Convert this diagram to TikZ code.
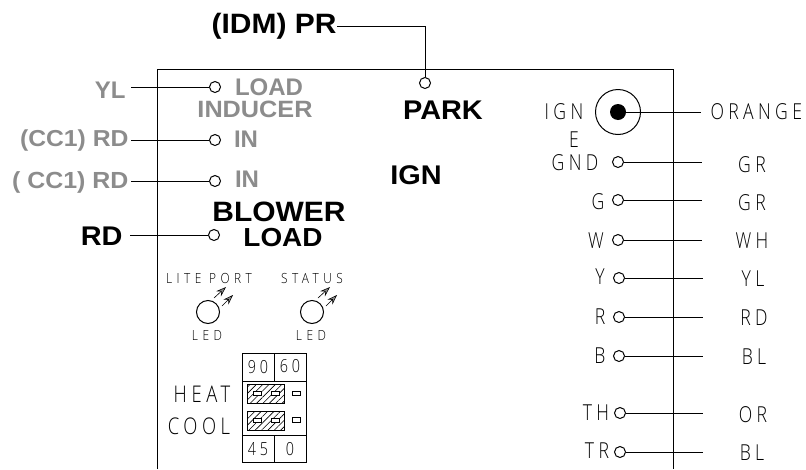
\documentclass[tikz,border=0pt]{standalone}
\usepackage{fontspec}
\setmainfont{Liberation Sans}
\newfontfamily\lblwide[FakeStretch=1.07]{Liberation Sans}
\newfontfamily\cadfont[LetterSpace=20,FakeStretch=0.8,UprightFont={* Light}]{Open Sans}
\newfontfamily\cadwide[LetterSpace=32,FakeStretch=0.85,UprightFont={* Light}]{Open Sans}
\usepackage{tikz}
\usetikzlibrary{arrows.meta,patterns.meta}
\definecolor{wiregray}{HTML}{8C8C8C}

\begin{document}
\begin{tikzpicture}[x=1pt,y=-1pt,line width=1pt,
    pin/.style={circle, draw, inner sep=0pt, minimum size=11pt},
    blk/.style={font=\bfseries\fontsize{24}{24}\selectfont, inner sep=0pt},
    gry/.style={blk, text=wiregray},
    cad/.style={font=\cadfont\fontsize{22}{22}\selectfont, inner sep=0pt},
    cadsm/.style={font=\cadwide\fontsize{14}{14}\selectfont, inner sep=0pt},
    cadmd/.style={font=\cadfont\fontsize{18}{18}\selectfont, inner sep=0pt},
    jump/.style={draw, pattern={Lines[angle=45,distance=4.5pt,line width=0.6pt]}},
    tab/.style={draw, fill=white, inner sep=0pt, minimum width=8pt, minimum height=4.5pt, line width=0.7pt},
    led/.style={-{Stealth[length=10pt,width=7pt,fill=wiregray]}, line width=0.6pt}]
            \useasboundingbox (0,0) rectangle (806,469);
            \draw (157,469) -- (157,69) -- (673,69) -- (673,469);
            \node[blk, anchor=east, font=\lblwide\bfseries\fontsize{28}{28}\selectfont] (PRlbl) at (337,26) {(IDM) PR};
            \node[pin] (PRpin) at (425,83) {};
            \node[blk, font=\lblwide\bfseries\fontsize{27}{27}\selectfont] (PARK) at (443,110) {PARK};
            \node[blk, font=\lblwide\bfseries\fontsize{27}{27}\selectfont] (IGNlbl) at (416,175) {IGN};
            \draw (PRlbl.east) -| (PRpin.north);
            \node[gry, anchor=east] (YLlbl) at (126,90) {YL};
            \node[gry, anchor=east, font=\lblwide\bfseries\fontsize{23.1}{24}\selectfont] (CC1lbl) at (129,141) {(CC1) RD};
            \node[gry, anchor=east, font=\lblwide\bfseries\fontsize{23.3}{24}\selectfont] (CC2lbl) at (129,182) {( CC1) RD};
            \node[blk, anchor=east, font=\lblwide\bfseries\fontsize{27}{27}\selectfont] (RDlbl) at (123,236) {RD};
            \node[pin] (YLpin) at (215,87) {};
            \node[pin] (CC1pin) at (215,140) {};
            \node[pin] (CC2pin) at (215,181) {};
            \node[pin] (RDpin) at (214,235) {};
            \coordinate (YLend) at (131,87);
            \coordinate (CC1end) at (131,140);
            \coordinate (CC2end) at (131,181);
            \coordinate (RDend) at (130,235);
            \draw (YLend) -- (YLpin);
            \draw (CC1end) -- (CC1pin);
            \draw (CC2end) -- (CC2pin);
            \draw (RDend) -- (RDpin);
            \node[gry] (LOAD0) at (269,87) {LOAD};
            \node[gry, font=\lblwide\bfseries\fontsize{23.6}{24}\selectfont] (INDUCER) at (255,109) {INDUCER};
            \node[gry] (IN0) at (246,139) {IN};
            \node[gry] (IN1) at (247,179) {IN};
            \node[blk, font=\lblwide\bfseries\fontsize{28}{28}\selectfont] (BLOWER) at (279,212) {BLOWER};
            \node[blk, font=\lblwide\bfseries\fontsize{26.1}{27}\selectfont] (LOAD1) at (283,238) {LOAD};
            \node[cadsm] (LITE) at (209,278) {LITE PORT};
            \node[cadsm] (STATUS) at (312,278) {STATUS};
            \node[circle, draw, inner sep=0pt, minimum size=23pt] (LED0) at (208,312) {};
            \node[circle, draw, inner sep=0pt, minimum size=23pt] (LED1) at (312,312) {};
            \node[cadsm] (LEDlbl0) at (207,335) {LED};
            \node[cadsm] (LEDlbl1) at (311,335) {LED};
            \draw[led] (214,298) -- (226,287);
            \draw[led] (222,306) -- (233,295);
            \draw[led] (318,298) -- (330,287);
            \draw[led] (326,306) -- (337,295);
            \draw (242,353) rectangle (306,462);
            \draw (242,381) -- (306,381);
            \draw (242,435) -- (306,435);
            \draw (274,353) -- (274,381);
            \draw (274,435) -- (274,462);
            \node[cadmd] (T90) at (258,367) {90};
            \node[cadmd] (T60) at (290,366) {60};
            \node[cadmd] (T45) at (258,449) {45};
            \node[cadmd] (T0) at (290,449) {0};
            \draw[jump] (247,384) rectangle (284,403);
            \draw[jump] (247,411) rectangle (284,430);
            \node[tab] (Tab0) at (257,393.5) {};
            \node[tab] (Tab1) at (275,393.5) {};
            \node[tab] (Tab2) at (257,420.5) {};
            \node[tab] (Tab3) at (275,420.5) {};
            \node[tab] (Tab4) at (296,393.5) {};
            \node[tab] (Tab5) at (296,420) {};
            \node[cadmd, font=\cadfont\fontsize{23}{23}\selectfont] (HEAT) at (202,394) {HEAT};
            \node[cadmd, font=\cadfont\fontsize{23}{23}\selectfont] (COOL) at (199,426) {COOL};
            \node[circle, draw, inner sep=0pt, minimum size=45pt] (IGNring) at (618,112) {};
            \node[circle, fill, inner sep=0pt, minimum size=16pt] (IGNcore) at (618,112) {};
            \node[cad] (IGNtxt) at (564,112) {IGN};
            \node[cad] (E) at (574,140) {E};
            \node[cad, anchor=west] (ORANGE) at (710,112) {ORANGE};
            \coordinate (ORend) at (701,112);
            \draw (IGNcore.center) -- (ORend);
            \node[cad] (GND) at (575,163) {GND};
            \node[pin] (GNDpin) at (618,162) {};
            \node[cad] (GRa) at (752,165) {GR};
            \coordinate (GNDend) at (702,162);
            \draw (GNDpin) -- (GNDend);
            \node[cad] (G) at (598,202) {G};
            \node[pin] (Gpin) at (618,200) {};
            \node[cad] (GRb) at (752,203) {GR};
            \coordinate (Gend) at (702,200);
            \draw (Gpin) -- (Gend);
            \node[cad] (W) at (596,241) {W};
            \node[pin] (Wpin) at (618,240) {};
            \node[cad] (WH) at (752,241) {WH};
            \coordinate (Wend) at (702,240);
            \draw (Wpin) -- (Wend);
            \node[cad] (Y) at (600,277) {Y};
            \node[pin] (Ypin) at (619,278) {};
            \node[cad] (YL) at (753,279) {YL};
            \coordinate (Yend) at (703,278);
            \draw (Ypin) -- (Yend);
            \node[cad] (R) at (600,317) {R};
            \node[pin] (Rpin) at (619,317) {};
            \node[cad] (RD) at (754,318) {RD};
            \coordinate (Rend) at (703,317);
            \draw (Rpin) -- (Rend);
            \node[cad] (B) at (600,356) {B};
            \node[pin] (Bpin) at (619,356) {};
            \node[cad] (BLa) at (754,357) {BL};
            \coordinate (Bend) at (703,356);
            \draw (Bpin) -- (Bend);
            \node[cad] (TH) at (596,413) {TH};
            \node[pin] (THpin) at (620,413) {};
            \node[cad] (OR) at (753,415) {OR};
            \coordinate (THend) at (703,413);
            \draw (THpin) -- (THend);
            \node[cad] (TR) at (597,451) {TR};
            \node[pin] (TRpin) at (620,452) {};
            \node[cad] (BLb) at (752,453) {BL};
            \coordinate (TRend) at (703,452);
            \draw (TRpin) -- (TRend);
        \end{tikzpicture}
\end{document}
